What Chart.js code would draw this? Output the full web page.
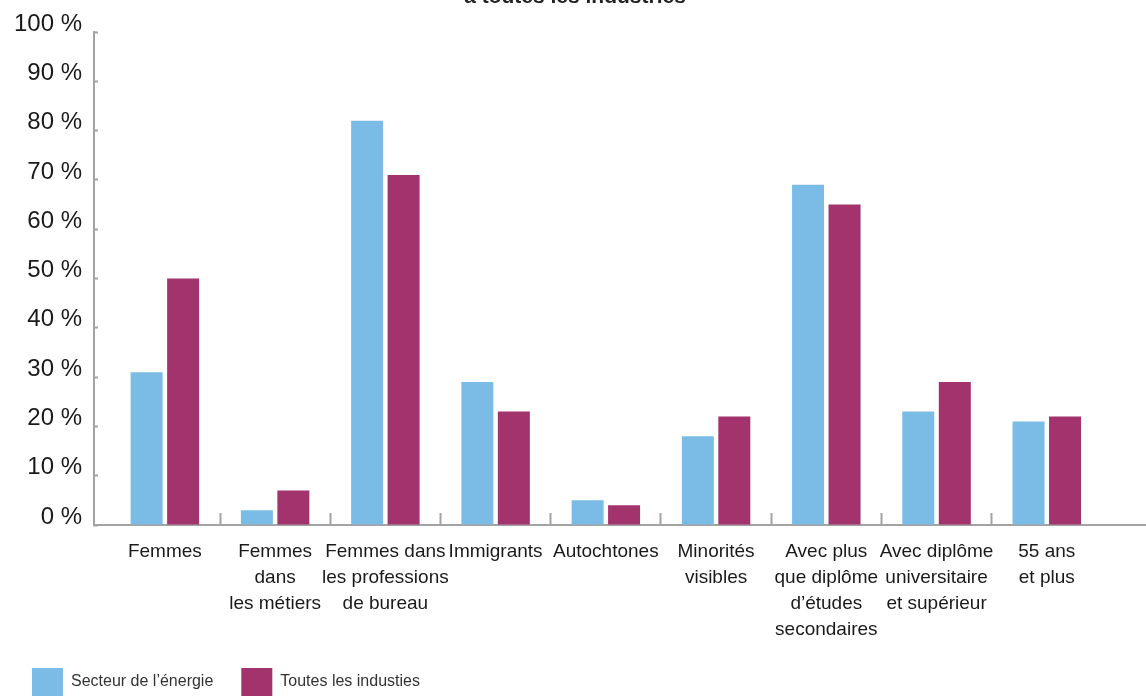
<!DOCTYPE html>
<html>
<head>
<meta charset="utf-8">
<script src="https://cdn.jsdelivr.net/npm/chart.js@4.4.1/dist/chart.umd.min.js"></script>
<style>
  html, body { margin: 0; padding: 0; background: #fff; }
</style>
</head>
<body>
<canvas id="myChart" width="1146" height="696"></canvas>
<script>
const categories = [
    ['Femmes'],
    ['Femmes', 'dans', 'les métiers'],
    ['Femmes dans', 'les professions', 'de bureau'],
    ['Immigrants'],
    ['Autochtones'],
    ['Minorités', 'visibles'],
    ['Avec plus', 'que diplôme', 'd’études', 'secondaires'],
    ['Avec diplôme', 'universitaire', 'et supérieur'],
    ['55 ans', 'et plus']
]
const energie = [31, 3, 82, 29, 5, 18, 69, 23, 21]
const toutes = [50, 7, 71, 23, 4, 22, 65, 29, 22]
const seriesNames = ['Secteur de l’énergie', 'Toutes les industies']
const titleText = 'à toutes les industries'

const fontFamily = '"Liberation Sans", Arial, sans-serif'
const axisGray = '#a3a3a3'

// category centres sit on integers, boundary marks on the halves
const labelTicks = categories.map((c, i) => i)
const boundaryTicks = categories.slice(1).map((c, i) => i + 0.5)

const ctx = document.getElementById('myChart')
const chartData = {
    type: 'bar',
    data: {
        datasets: [{
            label: seriesNames[0],
            data: energie.map((v, i) => ({ x: i, y: v })),
            backgroundColor: '#7abce6',
            borderWidth: 0
        }, {
            label: seriesNames[1],
            data: toutes.map((v, i) => ({ x: i, y: v })),
            backgroundColor: '#a2336c',
            borderWidth: 0
        }]
    },
    options: {
        responsive: false,
        animation: false,
        categoryPercentage: 0.662,
        barPercentage: 0.877,
        layout: { padding: { top: -15, left: 4, right: 0, bottom: -10 } },
        plugins: {
            tooltip: { enabled: false },
            title: {
                display: true,
                text: titleText,
                color: '#222',
                font: { family: fontFamily, size: 21, weight: 'bold' },
                padding: { top: 0, bottom: 21.8 }
            },
            legend: {
                position: 'bottom',
                align: 'start',
                labels: {
                    boxWidth: 31,
                    boxHeight: 28,
                    padding: 28,
                    color: '#333',
                    font: { family: fontFamily, size: 16 }
                }
            }
        },
        scales: {
            x: {
                type: 'linear',
                bounds: 'data',
                offset: false,
                min: -0.643,
                max: 8.9,
                afterBuildTicks: s => {
                    s.ticks = labelTicks.concat(boundaryTicks).map(v => ({ value: v }))
                },
                afterFit: s => { s.height = 115 },
                border: { color: axisGray, width: 2 },
                grid: {
                    offset: false,
                    drawOnChartArea: false,
                    tickLength: -12,
                    tickWidth: 2,
                    tickColor: c => (c.tick && Number.isInteger(c.tick.value)) ? 'rgba(0,0,0,0)' : axisGray
                },
                ticks: {
                    autoSkip: false,
                    maxRotation: 0,
                    minRotation: 0,
                    padding: 26,
                    color: '#1a1a1a',
                    font: { family: fontFamily, size: 19, lineHeight: 1.358 },
                    callback: v => Number.isInteger(v) ? categories[v] : ''
                }
            },
            y: {
                min: 0,
                max: 100,
                afterFit: s => { s.width = 90 },
                border: { color: axisGray, width: 2 },
                grid: {
                    drawOnChartArea: false,
                    tickLength: -4,
                    tickWidth: 2,
                    tickColor: axisGray
                },
                ticks: {
                    stepSize: 10,
                    padding: 16,
                    labelOffset: -8,
                    color: '#1a1a1a',
                    font: { family: fontFamily, size: 24 },
                    callback: v => v + ' %'
                }
            }
        }
    }
}
const myChart = new Chart(ctx, chartData)
</script>
</body>
</html>
